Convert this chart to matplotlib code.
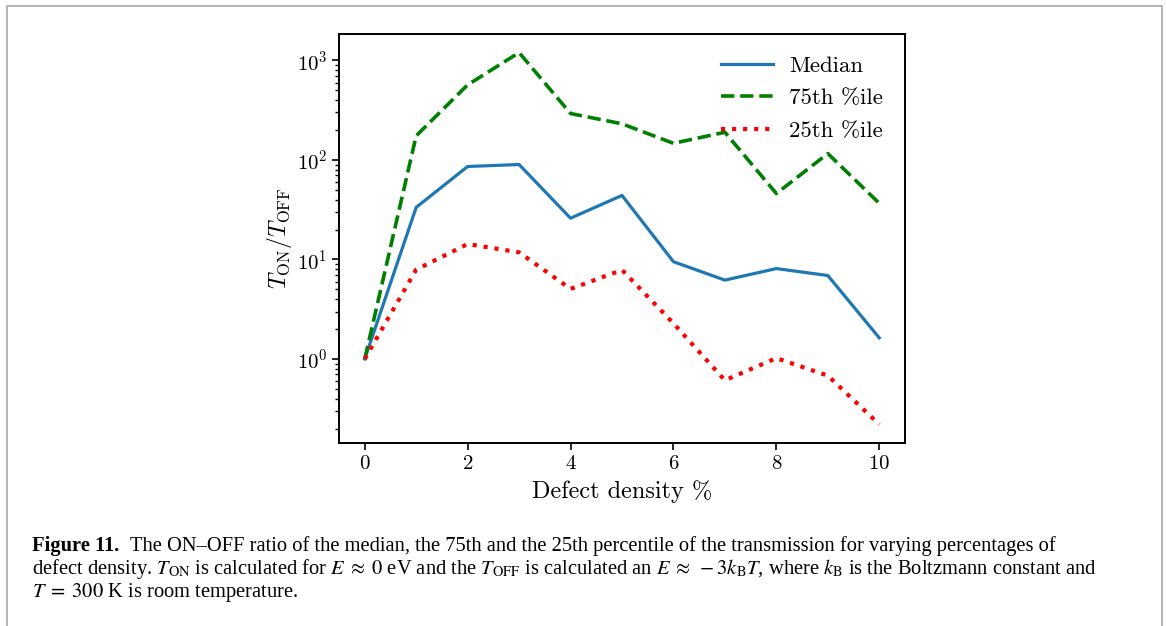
import matplotlib
matplotlib.use('Agg')
import matplotlib.pyplot as plt
from matplotlib.patches import Rectangle

# values
defect = [0, 1, 2, 3, 4, 5, 6, 7, 8, 9, 10]
median = [1.0, 33.4, 86, 90, 26, 44, 9.5, 6.2, 8.1, 6.9, 1.63]
p75 = [1.0, 175, 569, 1200, 293, 231, 147, 190, 46, 116, 36.7]
p25 = [1.0, 7.9, 14.3, 11.8, 5.06, 7.85, 2.28, 0.61, 1.02, 0.68, 0.22]
xticks = [0, 2, 4, 6, 8, 10]

plt.rcParams['font.family'] = 'serif'
plt.rcParams['font.serif'] = ['cmr10']
plt.rcParams['mathtext.fontset'] = 'cm'
plt.rcParams['axes.formatter.use_mathtext'] = True
plt.rcParams['axes.unicode_minus'] = False

fig = plt.figure(figsize=(11.67, 6.26), dpi=100)
ax = fig.add_axes([339 / 1167, 1 - 443 / 626, (905 - 339) / 1167, (443 - 34) / 626])

ax.plot(defect, median, color='#1f77b4', lw=2.3, label='Median')
ax.plot(defect, p75, color='green', lw=2.6, ls='--', label='75th %ile')
ax.plot(defect, p25, color='red', lw=3, ls=':', label='25th %ile')

ax.set_yscale('log')
ax.set_xticks(xticks)
ax.tick_params(labelsize=15, width=1.2, length=5)
ax.tick_params(which='minor', width=1, length=3)
for s in ax.spines.values():
    s.set_linewidth(1.4)
ax.set_xlabel('Defect density %', fontsize=17.5, labelpad=5)
ax.set_ylabel(r'$T_{\rm ON}/T_{\rm OFF}$', fontsize=17, labelpad=2)
ax.legend(loc='upper right', frameon=False, fontsize=16.5, handlelength=2.3,
          handletextpad=0.7, labelspacing=0.55, borderaxespad=0.55)

# page frame and caption
fig.patches.append(Rectangle((7 / 1167, -0.1), (1162 - 7) / 1167, 1.1 - 6 / 626,
                             transform=fig.transFigure, fill=False,
                             edgecolor='#b4b4b4', lw=1.4))
cap = dict(fontsize=14.8, family='Liberation Serif', math_fontfamily='stix', va='baseline')
fig.text(32 / 1167, 1 - 551 / 626, 'Figure 11.', fontweight='bold',
         fontsize=14.8, family='Liberation Serif', va='baseline')
fig.text(130 / 1167, 1 - 551 / 626,
         'The ON–OFF ratio of the median, the 75th and the 25th percentile of the transmission for varying percentages of',
         **cap)
fig.text(32 / 1167, 1 - 574 / 626,
         r'defect density. $T_{\rm ON}$ is calculated for $E\;\approx\;0$ eV and the $T_{\rm OFF}$ is calculated an $E\;\approx\;-3k_{\rm B}T$, where $k_{\rm B}$ is the Boltzmann constant and',
         **cap)
fig.text(32 / 1167, 1 - 597 / 626,
         r'$T\;=\;300$ K is room temperature.',
         **cap)

fig.savefig('out.png', dpi=100)
